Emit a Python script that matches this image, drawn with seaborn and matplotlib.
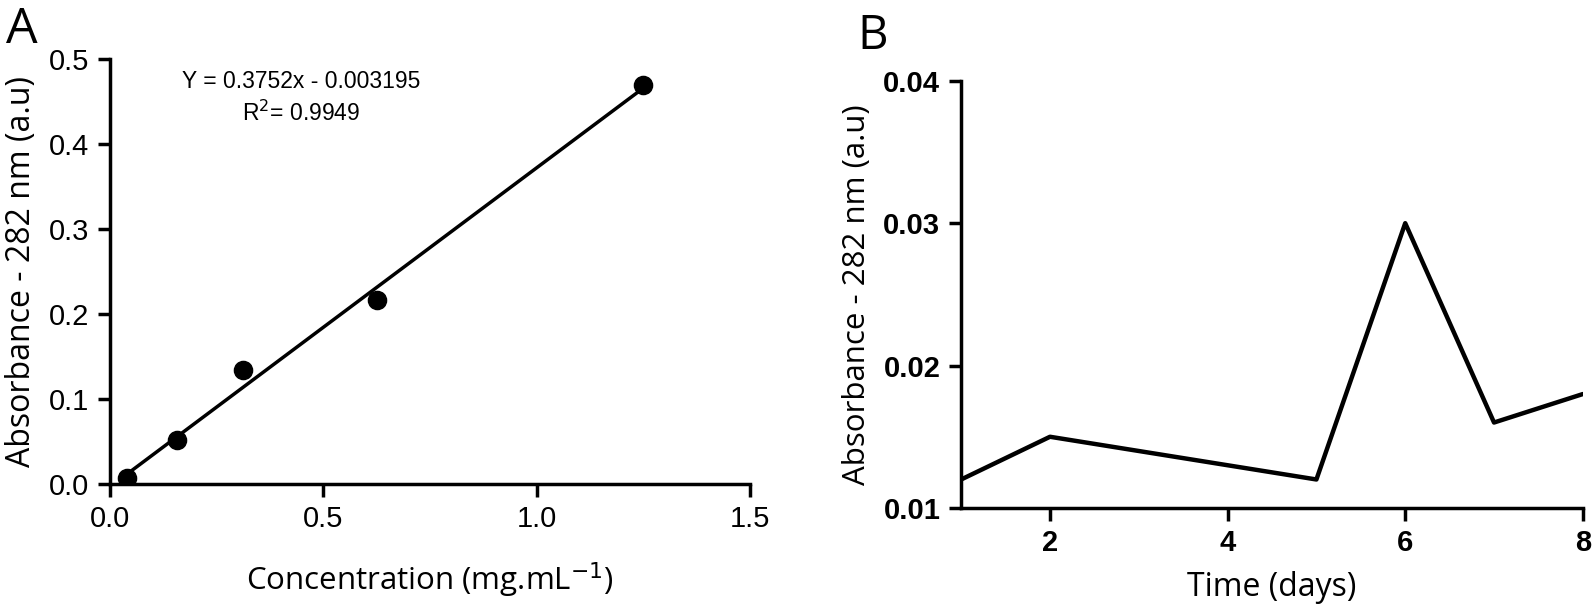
import matplotlib
matplotlib.use("Agg")
import matplotlib.pyplot as plt
import seaborn as sns
import numpy as np

# standard curve data (panel A)
conc = [0.039, 0.156, 0.3125, 0.625, 1.25]
absorb = [0.007, 0.052, 0.134, 0.216, 0.469]
slope = 0.3752
intercept = -0.003195

# release over time (panel B)
days = [1, 2, 3, 4, 5, 6, 7, 8]
abs_time = [0.012, 0.015, 0.014, 0.013, 0.012, 0.030, 0.016, 0.018]

sns.set_theme(style="ticks")
plt.rcParams["font.family"] = ["Open Sans", "DejaVu Sans"]
plt.rcParams["text.color"] = "black"
plt.rcParams["axes.labelcolor"] = "black"
plt.rcParams["xtick.color"] = "black"
plt.rcParams["ytick.color"] = "black"

fig = plt.figure(figsize=(15.94, 6.12), dpi=100)
axA = fig.add_axes([0.069, 0.209, 0.4015, 0.6946])
axB = fig.add_axes([0.603, 0.170, 0.390, 0.698])

narrow = ["Liberation Sans Narrow", "Liberation Sans", "DejaVu Sans"]

# panel A
sns.scatterplot(x=conc, y=absorb, ax=axA, color="black", s=170, edgecolor="black", zorder=3)
fit_x = np.array([conc[0], conc[-1]])
sns.lineplot(x=fit_x, y=slope * fit_x + intercept, ax=axA, color="black", lw=2.5)
axA.set_xlim(0, 1.5)
axA.set_ylim(0, 0.5)
axA.set_xticks([0, 0.5, 1.0, 1.5])
axA.set_yticks([0, 0.1, 0.2, 0.3, 0.4, 0.5])
axA.set_xticklabels(["0.0", "0.5", "1.0", "1.5"], family=narrow, fontsize=21)
axA.set_yticklabels(["0.0", "0.1", "0.2", "0.3", "0.4", "0.5"], family=narrow, fontsize=21)
axA.set_xlabel("Concentration (mg.mL$^{-1}$)", fontsize=22.5, labelpad=20)
axA.set_ylabel("Absorbance - 282 nm (a.u)", fontsize=23, labelpad=8)
axA.text(0.448, 0.474, "Y = 0.3752x - 0.003195", ha="center", va="center",
         family=["Liberation Sans", "DejaVu Sans"], fontsize=16.5)
axA.text(0.448, 0.436, "R$^2$= 0.9949", ha="center", va="center",
         family=["Liberation Sans", "DejaVu Sans"], fontsize=16.5)

# panel B
sns.lineplot(x=days, y=abs_time, ax=axB, color="black", lw=3.2)
axB.set_xlim(1, 8)
axB.set_ylim(0.01, 0.04)
axB.set_xticks([2, 4, 6, 8])
axB.set_yticks([0.01, 0.02, 0.03, 0.04])
axB.set_xticklabels(["2", "4", "6", "8"], family=narrow, fontsize=21, fontweight="bold")
axB.set_yticklabels(["0.01", "0.02", "0.03", "0.04"], family=narrow, fontsize=21, fontweight="bold")
axB.set_xlabel("Time (days)", fontsize=23, labelpad=10)
axB.set_ylabel("Absorbance - 282 nm (a.u)", fontsize=22.5, labelpad=8)

for ax in (axA, axB):
    sns.despine(ax=ax)
    for sp in ("left", "bottom"):
        ax.spines[sp].set_linewidth(2.5)
        ax.spines[sp].set_color("black")
    ax.tick_params(width=2.5, length=9, color="black", direction="out", pad=6)

fig.text(0.004, 0.93, "A", fontsize=36)
fig.text(0.538, 0.92, "B", fontsize=34)

fig.savefig("out.png", dpi=100)
